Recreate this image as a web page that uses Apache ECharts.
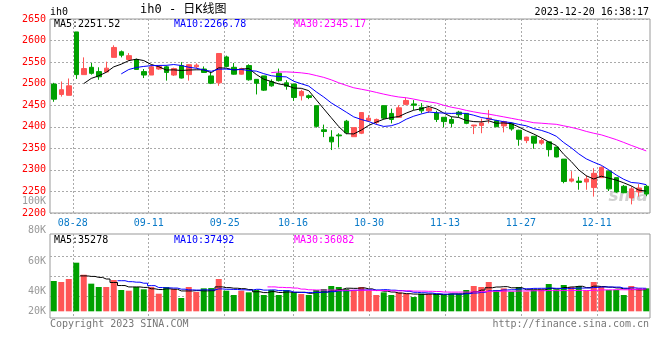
<!DOCTYPE html>
<html><head><meta charset="utf-8">
<script src="https://cdn.jsdelivr.net/npm/echarts@6/dist/echarts.min.js"></script>
<style>html,body{margin:0;padding:0;background:#fff}#c{width:660px;height:360px}</style>
</head><body><div id="c"></div>
<script>
// ---- data ----
const dates = ['08-23','08-24','08-25','08-28','08-29','08-30','08-31','09-01','09-04','09-05',
'09-06','09-07','09-08','09-11','09-12','09-13','09-14','09-15','09-18','09-19',
'09-20','09-21','09-22','09-25','09-26','09-27','09-28','10-09','10-10','10-11',
'10-12','10-13','10-16','10-17','10-18','10-19','10-20','10-23','10-24','10-25',
'10-26','10-27','10-30','10-31','11-01','11-02','11-03','11-06','11-07','11-08',
'11-09','11-10','11-13','11-14','11-15','11-16','11-17','11-20','11-21','11-22',
'11-23','11-24','11-27','11-28','11-29','11-30','12-01','12-04','12-05','12-06',
'12-07','12-08','12-11','12-12','12-13','12-14','12-15','12-18','12-19','12-20'];
const opens = [2499,2475,2473,2620,2521,2538,2528,2527,2561,2574,
2556,2556,2528,2520,2534,2539,2520,2542,2521,2539,
2534,2518,2502,2562,2538,2522,2542,2510,2518,2505,
2524,2502,2499,2472,2472,2449,2393,2376,2381,2413,
2377,2385,2414,2410,2449,2431,2422,2452,2453,2445,
2437,2432,2422,2417,2434,2431,2402,2403,2417,2414,
2402,2408,2392,2368,2378,2362,2365,2353,2325,2274,
2274,2272,2259,2282,2297,2282,2262,2235,2249,2262];
const closes = [2464,2486,2495,2521,2535,2524,2516,2536,2584,2566,
2565,2533,2520,2539,2540,2526,2535,2513,2544,2543,
2526,2501,2570,2540,2522,2535,2509,2501,2485,2495,
2507,2494,2468,2482,2468,2401,2389,2365,2379,2386,
2398,2433,2420,2417,2420,2417,2444,2461,2450,2437,
2443,2417,2412,2408,2428,2408,2404,2409,2420,2400,
2412,2395,2371,2376,2362,2368,2347,2330,2273,2279,
2271,2279,2292,2306,2256,2249,2247,2256,2258,2244];
const lows = [2458,2470,2473,2511,2521,2521,2509,2527,2561,2561,
2553,2533,2513,2520,2532,2507,2518,2512,2507,2535,
2525,2499,2495,2538,2521,2521,2507,2475,2483,2493,
2505,2486,2460,2461,2464,2398,2376,2346,2352,2383,
2377,2383,2411,2405,2417,2408,2422,2450,2439,2431,
2432,2411,2399,2399,2422,2406,2383,2385,2408,2400,
2387,2391,2356,2362,2349,2358,2331,2329,2269,2271,
2254,2254,2238,2282,2251,2247,2246,2220,2238,2239];
const highs = [2502,2505,2512,2620,2561,2548,2538,2551,2589,2577,
2571,2558,2534,2543,2543,2542,2537,2550,2545,2547,
2540,2526,2570,2565,2548,2537,2545,2510,2518,2510,
2535,2508,2499,2486,2475,2449,2405,2392,2385,2416,
2398,2434,2427,2419,2449,2442,2450,2467,2462,2455,
2449,2437,2422,2423,2437,2431,2404,2419,2439,2416,
2414,2410,2393,2377,2378,2372,2365,2353,2325,2297,
2284,2287,2304,2308,2299,2282,2265,2262,2267,2265];
const volumes = [52600,50900,56100,84400,63500,48000,42200,42200,54300,37000,
35800,42200,38200,42200,30600,42200,38700,23100,42200,33500,
39900,40400,56100,35800,28300,35800,32900,37000,28300,37000,
28300,37000,33000,30000,28300,37000,38700,43900,42200,38700,
35800,42200,35800,28300,32900,28300,32900,30600,24800,30600,
30600,30600,28300,30600,30600,37000,43900,42200,50900,37000,
39900,34100,42200,34100,37000,38200,47400,38200,45700,42200,
43900,35800,50900,42200,37000,37000,28300,43900,39900,39900];
const xTickLabels = ['08-28','09-11','09-25','10-16','10-30','11-13','11-27','12-11'];
const volTickLabels = ['100K','80K','60K','40K','20K'];
const priceMALegend = ['MA5:2251.52','MA10:2266.78','MA30:2345.17'];
const volMALegend = ['MA5:35278','MA10:37492','MA30:36082'];
const titleText = 'ih0 - 日K线图';
const symbolText = 'ih0';
const timeText = '2023-12-20 16:38:17';

// ---- helpers ----
function ma(arr, n) {
  return arr.map((_, i) => {
    if (i < n - 1) return '-';
    let s = 0; for (let k = i - n + 1; k <= i; k++) s += arr[k];
    return +(s / n).toFixed(2);
  });
}
const RED = '#ff5555', GREEN = '#00a000';
const MONO = '"DejaVu Sans Mono", "Liberation Mono", monospace';
const maColors = ['#000000', '#0000ff', '#ff00ff'];
const gridLine = { color: '#aaaaaa', type: [2, 2], width: 1 };
const isTick = (i, v) => xTickLabels.indexOf(v) >= 0;

const candleData = opens.map((o, i) => [o, closes[i], lows[i], highs[i]]);
const volData = volumes.map((v, i) => ({ value: v, itemStyle: { color: closes[i] >= opens[i] ? RED : GREEN } }));

const legendX = [54, 174, 294];
const volTickY = [201, 230, 261, 291, 311];
const graphics = [];
graphics.push({ type: 'text', x: 50, y: 12, style: { text: symbolText, font: '10px ' + MONO, fill: '#000', textVerticalAlign: 'middle', verticalAlign: 'middle' } });
graphics.push({ type: 'text', x: 140, y: 10, style: { text: titleText, font: '12px ' + MONO + ', "Noto Sans CJK SC"', fill: '#000', textVerticalAlign: 'middle', verticalAlign: 'middle' } });
graphics.push({ type: 'text', x: 649, y: 12, style: { text: timeText, font: '10px ' + MONO, fill: '#000', textAlign: 'right', align: 'right', textVerticalAlign: 'middle', verticalAlign: 'middle' } });
priceMALegend.forEach((t, k) => graphics.push({ type: 'text', z: 10, x: legendX[k], y: 24, style: { text: t, font: '10px ' + MONO, fill: maColors[k], textVerticalAlign: 'middle', verticalAlign: 'middle' } }));
volMALegend.forEach((t, k) => graphics.push({ type: 'text', z: 10, x: legendX[k], y: 240, style: { text: t, font: '10px ' + MONO, fill: maColors[k], textVerticalAlign: 'middle', verticalAlign: 'middle' } }));
volTickLabels.forEach((t, k) => graphics.push({ type: 'text', x: 46, y: volTickY[k], style: { text: t, font: '10px ' + MONO, fill: '#999', textAlign: 'right', align: 'right', textVerticalAlign: 'middle', verticalAlign: 'middle' } }));
graphics.push({ type: 'text', x: 50, y: 324, style: { text: 'Copyright 2023 SINA.COM', font: '10px ' + MONO, fill: '#777', textVerticalAlign: 'middle', verticalAlign: 'middle' } });
graphics.push({ type: 'text', x: 649, y: 324, style: { text: 'http://finance.sina.com.cn', font: '10px ' + MONO, fill: '#777', textAlign: 'right', align: 'right', textVerticalAlign: 'middle', verticalAlign: 'middle' } });
graphics.push({ type: 'text', x: 648, y: 197, z: 0, style: { text: 'sina', font: 'italic bold 17px "DejaVu Sans"', fill: 'rgba(170,170,170,0.55)', textAlign: 'right', align: 'right', textVerticalAlign: 'middle', verticalAlign: 'middle' } });

const hiddenCat = (grid, bg, pos) => ({ type: 'category', gridIndex: grid, data: dates, boundaryGap: bg, position: pos,
  axisLine: { show: false }, axisTick: { show: false }, axisLabel: { show: false }, splitLine: { show: false } });

const option = {
  animation: false,
  backgroundColor: '#fff',
  grid: [
    { left: 50, top: 19, width: 600, height: 194, show: true, borderColor: '#999', borderWidth: 1 },
    { left: 50, top: 234, width: 600, height: 84, show: true, borderColor: '#999', borderWidth: 1 },
    { left: 50, top: 256, width: 600, height: 40, show: false }
  ],
  xAxis: [
    hiddenCat(0, true, 'top'),
    { type: 'category', gridIndex: 0, data: dates, boundaryGap: false, position: 'bottom',
      axisLine: { show: false }, axisTick: { show: false },
      axisLabel: { show: true, interval: isTick, color: '#0a7ac8', fontFamily: MONO, fontSize: 10, margin: 5 },
      splitLine: { show: true, interval: isTick, lineStyle: gridLine } },
    hiddenCat(1, true, 'top'),
    { type: 'category', gridIndex: 1, data: dates, boundaryGap: false, position: 'bottom',
      axisLine: { show: false }, axisTick: { show: false }, axisLabel: { show: false },
      splitLine: { show: true, interval: isTick, lineStyle: gridLine } },
    hiddenCat(2, true, 'bottom')
  ],
  yAxis: [
    { type: 'value', gridIndex: 0, min: 2200, max: 2650, interval: 50,
      axisLine: { show: false }, axisTick: { show: false },
      axisLabel: { color: '#ff0000', fontFamily: MONO, fontSize: 10, margin: 4, formatter: v => String(v) },
      splitLine: { show: true, lineStyle: gridLine } },
    { type: 'value', gridIndex: 1, min: -11600, max: 134200, show: false, splitLine: { show: false } },
    { type: 'value', gridIndex: 2, min: 20, max: 60, interval: 20,
      axisLine: { show: false }, axisTick: { show: false }, axisLabel: { show: false },
      splitLine: { show: true, lineStyle: gridLine } }
  ],
  graphic: graphics,
  series: [
    { type: 'candlestick', xAxisIndex: 0, yAxisIndex: 0, data: candleData, barWidth: 5,
      itemStyle: { color: RED, color0: GREEN, borderColor: RED, borderColor0: GREEN, borderWidth: 1 } },
    ...[5, 10, 30].map((n, k) => ({ type: 'line', xAxisIndex: 0, yAxisIndex: 0, data: ma(closes, n), symbol: 'none',
      lineStyle: { color: maColors[k], width: 1 }, z: 5 })),
    { type: 'bar', xAxisIndex: 2, yAxisIndex: 1, data: volData, barWidth: 6 },
    ...[5, 10, 30].map((n, k) => ({ type: 'line', xAxisIndex: 2, yAxisIndex: 1, data: ma(volumes, n), symbol: 'none', step: 'middle',
      lineStyle: { color: maColors[k], width: 1 }, z: 5 }))
  ]
};
echarts.init(document.getElementById('c')).setOption(option);
</script></body></html>
